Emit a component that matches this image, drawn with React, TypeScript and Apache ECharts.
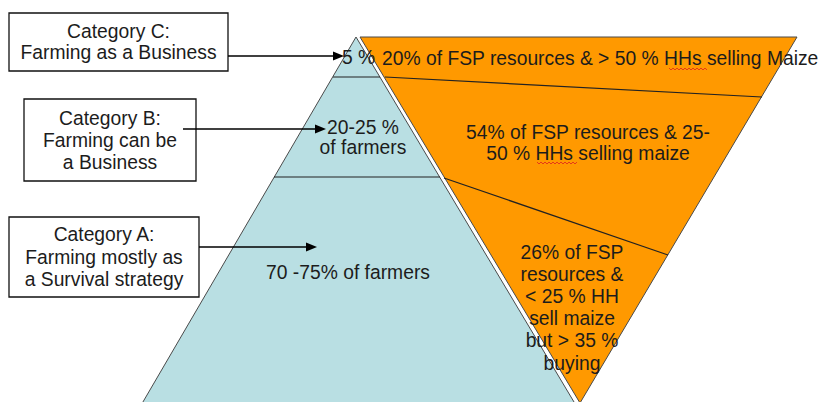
import React, { useEffect, useRef } from "react";
import * as echarts from "echarts";

// ---- Diagram content ----
const categoryTitles = ["Category C:", "Category B:", "Category A:"];
const categoryDescriptions = [
  "Farming as a Business",
  "Farming can be\na Business",
  "Farming mostly as\na Survival strategy",
];
const farmerShares = ["5 %", "20-25 %\nof farmers", "70 -75% of farmers"];
const resourceShares = [
  "20% of FSP resources & > 50 % HHs selling Maize",
  "54% of FSP resources & 25-\n50 % HHs selling maize",
  "26% of FSP\nresources &\n< 25 % HH\nsell maize\nbut > 35 %\nbuying",
];

const FONT = '"Liberation Sans", Arial, Helvetica, sans-serif';
const TEXT_COLOR = "#1c1c1c";
const BLUE = "#b9dfe3";
const ORANGE = "#ff9900";
const EDGE = "#4a4a4a";
const FONT_SIZE = 19.3;

function txt(text: string, x: number, y: number, align: string, lineHeight = 21, size = FONT_SIZE) {
  return {
    type: "text",
    x,
    y,
    z: 10,
    style: {
      text,
      fill: TEXT_COLOR,
      fontSize: size,
      fontFamily: FONT,
      lineHeight,
      textAlign: align,
      align,
      textVerticalAlign: "middle",
      verticalAlign: "middle",
    },
  };
}

function hline(x1: number, y1: number, x2: number, y2: number, z = 5, color = "#222", w = 1.2) {
  return { type: "line", z, shape: { x1, y1, x2, y2 }, style: { stroke: color, lineWidth: w } };
}

function arrow(x1: number, x2: number, y: number) {
  return [
    hline(x1, y, x2 - 9, y, 8, "#000", 1.5),
    {
      type: "polygon",
      z: 8,
      shape: { points: [[x2, y], [x2 - 11, y - 4.5], [x2 - 11, y + 4.5]] },
      style: { fill: "#000" },
    },
  ];
}

function squiggle(x1: number, x2: number, y: number) {
  const pts: number[][] = [];
  let up = true;
  for (let x = x1; x <= x2; x += 2) {
    pts.push([x, up ? y : y + 2]);
    up = !up;
  }
  return { type: "polyline", z: 11, shape: { points: pts }, style: { stroke: "#e02020", lineWidth: 0.8, fill: null } };
}

function box(x: number, y: number, w: number, h: number, title: string, desc: string, lh: number) {
  return [
    {
      type: "rect",
      z: 6,
      shape: { x, y, width: w, height: h },
      style: { fill: "#fff", stroke: "#111", lineWidth: 1.3 },
    },
    txt(title + "\n" + desc, x + w / 2, y + h / 2, "center", lh),
  ];
}

export default function App() {
  const ref = useRef<HTMLDivElement>(null);
  useEffect(() => {
    const chart = echarts.init(ref.current!, null, { renderer: "svg" });
    const elements: any[] = [
      // blue pyramid (farmers)
      {
        type: "polygon",
        z: 1,
        shape: { points: [[356, 37], [140, 407], [577, 407]] },
        style: { fill: BLUE, stroke: EDGE, lineWidth: 1 },
      },
      // orange inverted triangle (FSP resources)
      {
        type: "polygon",
        z: 1,
        shape: { points: [[360, 37], [797, 37], [580, 403]] },
        style: { fill: ORANGE, stroke: EDGE, lineWidth: 1 },
      },
      // divisions
      hline(333, 77, 380, 77),
      hline(274, 177, 440, 177),
      hline(385, 77, 762, 97),
      hline(444, 178, 668, 255),
      // boxes
      ...box(9, 13, 219, 58, categoryTitles[0], categoryDescriptions[0], 21),
      ...box(24, 99, 172, 82, categoryTitles[1], categoryDescriptions[1], 22),
      ...box(9, 217, 190, 80, categoryTitles[2], categoryDescriptions[2], 22.5),
      // arrows
      ...arrow(228, 344, 56),
      ...arrow(183, 326, 129),
      ...arrow(199, 317, 247),
      // farmer shares
      txt(farmerShares[0], 342, 57, "left"),
      txt(farmerShares[1], 363, 137, "center", 20),
      txt(farmerShares[2], 266, 272, "left"),
      // resource shares
      txt(resourceShares[0], 382, 58, "left"),
      txt(resourceShares[1], 588, 142.5, "center", 21),
      txt(resourceShares[2], 572, 307.5, "center", 22.2),
      squiggle(669, 708, 68),
      squiggle(537, 577, 162),
    ];
    chart.setOption({ animation: false, graphic: { elements } });
    return () => chart.dispose();
  }, []);
  return (
    <div
      ref={ref}
      style={{ position: "fixed", left: 0, top: 0, width: 823, height: 402, background: "#fff" }}
    />
  );
}
